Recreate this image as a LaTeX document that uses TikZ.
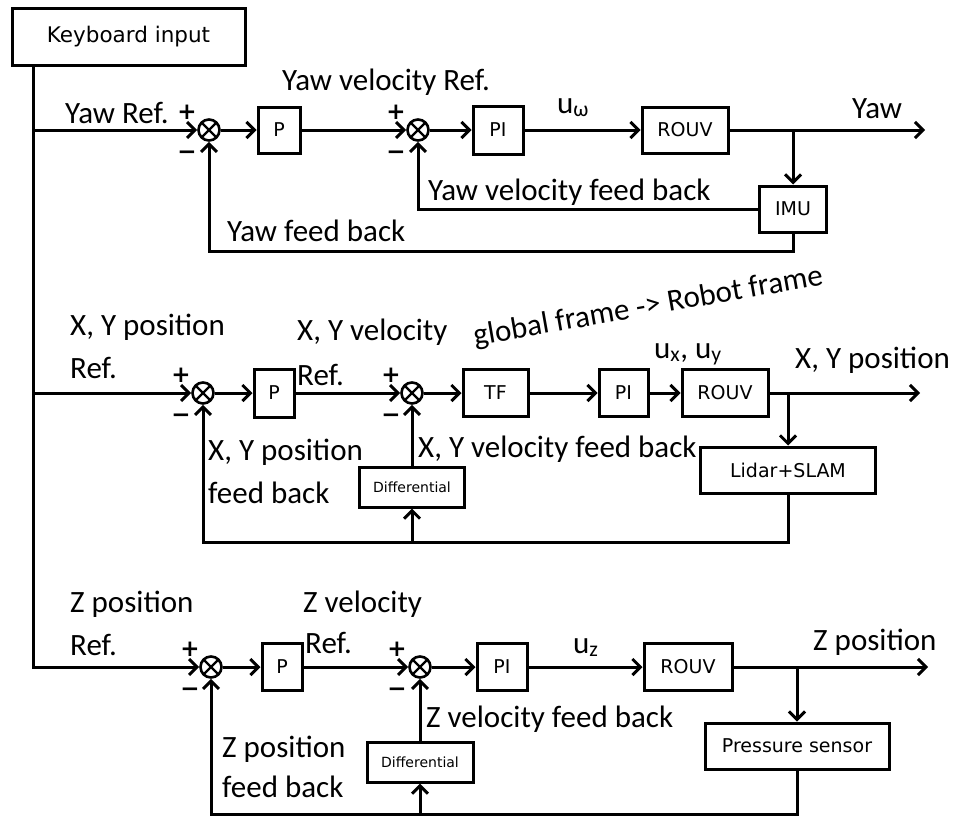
\documentclass[tikz,border=0pt]{standalone}
\usepackage{fontspec}
\setmainfont{Carlito}
\newfontfamily\boxfont{DejaVu Sans}
\usetikzlibrary{arrows.meta}
\tikzset{
	block/.style={draw, line width=3pt, inner sep=0pt, font=\boxfont\fontsize{19}{22}\selectfont},
	small block/.style={block, font=\boxfont\fontsize{14}{16}\selectfont},
	sum node/.style={circle, draw, line width=2.6pt, minimum size=21pt, inner sep=0pt,
		path picture={\draw[line width=2.4pt] (path picture bounding box.north west) -- (path picture bounding box.south east)
			(path picture bounding box.north east) -- (path picture bounding box.south west);}},
	sign/.style={inner sep=0pt, font=\boxfont\bfseries\fontsize{23}{23}\selectfont},
	txt/.style={anchor=base west, inner sep=0pt, font=\fontsize{31}{36}\selectfont},
	flow/.style={line width=3pt, -{Straight Barb[length=8pt, width=16pt]}},
}

\begin{document}
\begin{tikzpicture}[x=1pt, y=-1pt]
	\useasboundingbox (0,0) rectangle (957,817);

	\node[block, minimum width=233pt, minimum height=57pt, font=\boxfont\fontsize{21.5}{24}\selectfont] (kb) at (128.5,36.5) {Keyboard input};

	% yaw loop
	\node[sum node] (s11) at (209,130) {};
	\node[block, minimum width=42pt, minimum height=46pt] (p1) at (279,130) {P};
	\node[sum node] (s12) at (418,130) {};
	\node[block, minimum width=50pt, minimum height=48pt] (pi1) at (498,130) {PI};
	\node[block, minimum width=86pt, minimum height=46pt] (rouv1) at (685,130) {ROUV};
	\node[block, minimum width=67pt, minimum height=46pt] (imu) at (793,209) {IMU};
	\coordinate (yaw out) at (925,130);

	% x, y loop
	\node[sum node] (s21) at (203,393) {};
	\node[block, minimum width=40pt, minimum height=48pt] (p2) at (274,393) {P};
	\node[sum node] (s22) at (412,393) {};
	\node[block, minimum width=65pt, minimum height=47pt] (tf) at (495.5,393) {TF};
	\node[block, minimum width=49pt, minimum height=47pt] (pi2) at (623.5,393) {PI};
	\node[block, minimum width=86pt, minimum height=47pt] (rouv2) at (725,393) {ROUV};
	\node[block, minimum width=175pt, minimum height=46pt] (lidar) at (788,470) {Lidar+SLAM};
	\node[small block, minimum width=105pt, minimum height=40pt] (diff2) at (412,487) {Differential};
	\coordinate (xy out) at (920,393);
	\coordinate (fb2) at (412,542);

	% z loop
	\node[sum node] (s31) at (211,667) {};
	\node[block, minimum width=40pt, minimum height=47pt] (p3) at (282,667) {P};
	\node[sum node] (s32) at (420,667) {};
	\node[block, minimum width=50pt, minimum height=47pt] (pi3) at (502,667) {PI};
	\node[block, minimum width=88pt, minimum height=47pt] (rouv3) at (688,667) {ROUV};
	\node[block, minimum width=184pt, minimum height=46pt] (press) at (797,746) {Pressure sensor};
	\node[small block, minimum width=106pt, minimum height=40pt] (diff3) at (420,762) {Differential};
	\coordinate (z out) at (928,667);
	\coordinate (fb3) at (420,814);

	\coordinate (bus) at (33,667);
	\draw[flow] (kb.south -| bus) -- (bus) -- (s31);
	\draw[flow] (bus |- s11) -- (s11);
	\draw[flow] (bus |- s21) -- (s21);

	\draw[flow] (s11) -- (p1);
	\draw[flow] (p1) -- (s12);
	\draw[flow] (s12) -- (pi1);
	\draw[flow] (pi1) -- (rouv1);
	\draw[flow] (rouv1) -- (yaw out);
	\draw[flow] (imu |- rouv1) -- (imu);
	\draw[flow] (imu) -| (s12);
	\draw[flow] (imu.south) -- ++(0,18) -| (s11);

	\draw[flow] (s21) -- (p2);
	\draw[flow] (p2) -- (s22);
	\draw[flow] (s22) -- (tf);
	\draw[flow] (tf) -- (pi2);
	\draw[flow] (pi2) -- (rouv2);
	\draw[flow] (rouv2) -- (xy out);
	\draw[flow] (lidar |- rouv2) -- (lidar);
	\draw[flow] (lidar.south) |- (fb2) -| (s21);
	\draw[flow] (fb2) -- (diff2);
	\draw[flow] (diff2) -- (s22);

	\draw[flow] (s31) -- (p3);
	\draw[flow] (p3) -- (s32);
	\draw[flow] (s32) -- (pi3);
	\draw[flow] (pi3) -- (rouv3);
	\draw[flow] (rouv3) -- (z out);
	\draw[flow] (press |- rouv3) -- (press);
	\draw[flow] (press.south) |- (fb3) -| (s31);
	\draw[flow] (fb3) -- (diff3);
	\draw[flow] (diff3) -- (s32);

	% signs
	\foreach \s/\x/\y in {a/187/130, b/396/130, c/181/393, d/391/393, e/190/667, f/397/667}{
		\node[sign] (plus \s) at (\x,\y-18) {+};
		\node[sign] (minus \s) at (\x,\y+25) {−};
	}

	% labels
	\node[txt] (yaw ref) at (65,123) {Yaw Ref.};
	\node[txt] (yaw vel ref) at (282,90) {Yaw velocity Ref.};
	\node[txt] (u w) at (557,113) {u\textsubscript{ω}};
	\node[txt] (yaw) at (852,118) {Yaw};
	\node[txt] (yaw vel fb) at (428,200) {Yaw velocity feed back};
	\node[txt] (yaw fb) at (227,241) {Yaw feed back};

	\node[txt] (xy ref a) at (70,335) {X, Y position};
	\node[txt] (xy ref b) at (70,378) {Ref.};
	\node[txt] (xy vel ref a) at (297,340) {X, Y velocity};
	\node[txt] (xy vel ref b) at (297,385) {Ref.};
	\node[txt, rotate=10] (frame) at (475,346) {global frame -> Robot frame};
	\node[txt] (u xy) at (654,358) {u\textsubscript{x}, u\textsubscript{y}};
	\node[txt] (xy pos) at (795,368) {X, Y position};
	\node[txt] (xy fb a) at (208,460) {X, Y position};
	\node[txt] (xy fb b) at (208,503) {feed back};
	\node[txt] (xy vel fb) at (418,457) {X, Y velocity feed back};

	\node[txt] (z ref a) at (70,612) {Z position};
	\node[txt] (z ref b) at (70,655) {Ref.};
	\node[txt] (z vel ref a) at (303,612) {Z velocity};
	\node[txt] (z vel ref b) at (305,653) {Ref.};
	\node[txt] (u z) at (573,653) {u\textsubscript{z}};
	\node[txt] (z pos) at (813,650) {Z position};
	\node[txt] (z vel fb) at (426,727) {Z velocity feed back};
	\node[txt] (z fb a) at (222,757) {Z position};
	\node[txt] (z fb b) at (222,797) {feed back};
\end{tikzpicture}
\end{document}
